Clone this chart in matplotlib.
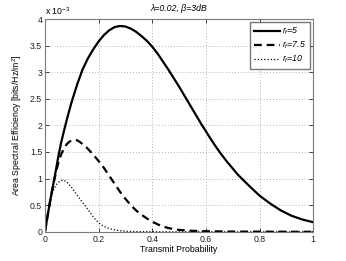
import matplotlib
matplotlib.use("Agg")
import matplotlib.pyplot as plt

# values, y in units of 1e-3 bits/Hz/m^2
p_rf5 = [0.0, 0.01, 0.02, 0.03, 0.04, 0.05, 0.06, 0.07, 0.08, 0.09,
         0.10, 0.12, 0.14, 0.16, 0.18, 0.20, 0.22, 0.24, 0.26, 0.28,
         0.30, 0.32, 0.34, 0.36, 0.38, 0.40, 0.42, 0.44, 0.46, 0.48,
         0.50, 0.52, 0.54, 0.56, 0.58, 0.60, 0.62, 0.64, 0.66, 0.68,
         0.70, 0.72, 0.76, 0.80, 0.84, 0.88, 0.92, 0.96, 1.0]
ase_rf5 = [0.0, 0.31, 0.60, 0.87, 1.14, 1.42, 1.67, 1.88, 2.08, 2.27,
           2.45, 2.77, 3.05, 3.26, 3.43, 3.58, 3.70, 3.79, 3.85, 3.87,
           3.86, 3.82, 3.76, 3.68, 3.59, 3.48, 3.35, 3.20, 3.05, 2.89,
           2.73, 2.56, 2.39, 2.22, 2.05, 1.89, 1.73, 1.58, 1.44, 1.31,
           1.19, 1.07, 0.87, 0.68, 0.53, 0.40, 0.30, 0.23, 0.18]

p_rf75 = [0.0, 0.01, 0.02, 0.03, 0.04, 0.05, 0.06, 0.07, 0.08, 0.09,
          0.10, 0.11, 0.12, 0.13, 0.14, 0.15, 0.16, 0.18, 0.20, 0.22,
          0.24, 0.26, 0.28, 0.30, 0.32, 0.34, 0.36, 0.38, 0.40, 0.42,
          0.44, 0.46, 0.48, 0.50, 0.55, 0.60, 0.70, 0.80, 0.90, 1.0]
ase_rf75 = [0.0, 0.31, 0.60, 0.86, 1.10, 1.30, 1.45, 1.56, 1.64, 1.69,
            1.72, 1.73, 1.72, 1.69, 1.65, 1.61, 1.56, 1.45, 1.33, 1.20,
            1.05, 0.90, 0.75, 0.62, 0.50, 0.40, 0.32, 0.25, 0.19, 0.14,
            0.10, 0.07, 0.05, 0.035, 0.018, 0.01, 0.004, 0.002, 0.001, 0.0]

p_rf10 = [0.0, 0.01, 0.02, 0.03, 0.04, 0.05, 0.06, 0.07, 0.08, 0.09,
          0.10, 0.11, 0.12, 0.13, 0.14, 0.15, 0.16, 0.17, 0.18, 0.19,
          0.20, 0.21, 0.22, 0.24, 0.26, 0.28, 0.30, 0.35, 0.40, 0.50, 1.0]
ase_rf10 = [0.0, 0.31, 0.58, 0.77, 0.87, 0.93, 0.965, 0.97, 0.94, 0.89,
            0.83, 0.76, 0.69, 0.62, 0.55, 0.49, 0.42, 0.35, 0.28, 0.22,
            0.17, 0.13, 0.10, 0.06, 0.035, 0.02, 0.01, 0.004, 0.001, 0.0, 0.0]

x_ticks = [0, 0.2, 0.4, 0.6, 0.8, 1]
x_tick_labels = ["0", "0.2", "0.4", "0.6", "0.8", "1"]
y_ticks = [0, 0.5, 1, 1.5, 2, 2.5, 3, 3.5, 4]
y_tick_labels = ["0", "0.5", "1", "1.5", "2", "2.5", "3", "3.5", "4"]

plt.rcParams.update({"font.size": 6.3, "font.family": ["Liberation Sans", "DejaVu Sans"],
                     "mathtext.fontset": "custom", "mathtext.rm": "Liberation Sans",
                     "mathtext.it": "Liberation Sans:italic"})

fig = plt.figure(figsize=(3.46, 2.61), dpi=100)
ax = fig.add_axes([0.130, 0.112, 0.775, 0.815])

ax.plot(p_rf5, ase_rf5, color="black", linewidth=1.6, linestyle="-", label="$r_f$=5")
ax.plot(p_rf75, ase_rf75, color="black", linewidth=1.6, linestyle=(0, (3.5, 2.2)), label="$r_f$=7.5")
ax.plot(p_rf10, ase_rf10, color="black", linewidth=0.9, linestyle=(0, (1, 1.6)), label="$r_f$=10")

ax.set_xlim(0, 1)
ax.set_ylim(0, 4)
ax.set_xticks(x_ticks, x_tick_labels)
ax.set_yticks(y_ticks, y_tick_labels)
ax.tick_params(direction="in", length=3, width=0.6, top=True, right=True,
               labelsize=6.3, pad=2, colors="#222222")
for s in ax.spines.values():
    s.set_color("#7a7a7a")
    s.set_linewidth(0.8)
ax.grid(True, linestyle=(0, (1, 2.5)), color="#9a9a9a", linewidth=0.6)

ax.set_xlabel("Transmit Probability", fontsize=6.3, labelpad=1)
ax.set_ylabel("Area Spectral Efficiency [bits/Hz/m$^2$]", fontsize=6.3, labelpad=4)
ax.set_title("λ=0.02, β=3dB", fontsize=6.3, style="italic", pad=6)
ax.text(0.0, 1.012, "x 10$^{-3}$", transform=ax.transAxes, fontsize=6.3,
        ha="left", va="bottom")

leg = ax.legend(loc="upper right", fontsize=6.3, frameon=True, fancybox=False,
                handlelength=3.0, borderaxespad=0.35, labelspacing=0.3,
                handletextpad=0.3, borderpad=0.4)
leg.get_frame().set_edgecolor("#555555")
leg.get_frame().set_linewidth(1.0)
for t in leg.get_texts():
    t.set_style("italic")

fig.savefig("out.png", dpi=100)
